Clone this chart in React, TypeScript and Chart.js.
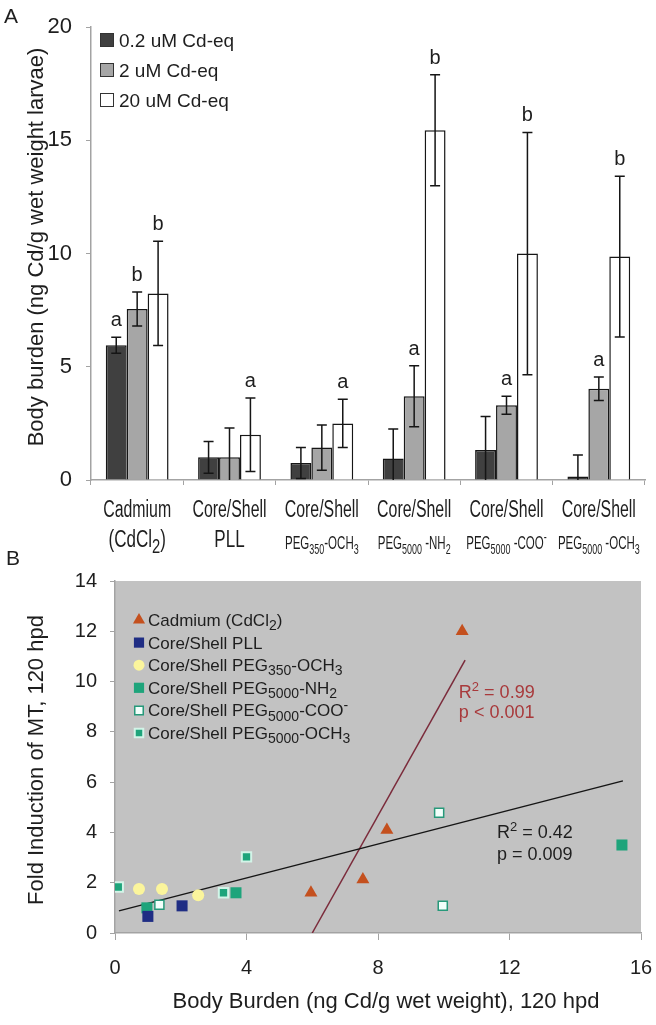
import React, { useEffect, useRef } from 'react';
import { Chart, registerables } from 'chart.js';
Chart.register(...registerables);

const FONT = '"Liberation Sans", Arial, Helvetica, sans-serif';
const TEXT = '#1e1e1e';
const AXIS = '#a3a3a3';

// ---------- Panel A data ----------
const categoriesLine1 = ['Cadmium', 'Core/Shell', 'Core/Shell', 'Core/Shell', 'Core/Shell', 'Core/Shell'];
const categoriesLine2 = ['(CdCl_{2})', 'PLL', 'PEG_{350}-OCH_{3}', 'PEG_{5000} -NH_{2}', 'PEG_{5000} -COO^{-}', 'PEG_{5000} -OCH_{3}'];
const seriesNames = ['0.2 uM Cd-eq', '2 uM Cd-eq', '20 uM Cd-eq'];
const lowDose = [5.95, 1.0, 0.75, 0.95, 1.33, 0.15];
const midDose = [7.55, 1.0, 1.43, 3.7, 3.3, 4.03];
const highDose = [8.24, 2.0, 2.5, 15.45, 10.0, 9.87];
const lowErr = [0.35, 0.7, 0.68, 1.3, 1.47, 0.95];
const midErr = [0.75, 1.3, 1.0, 1.35, 0.4, 0.52];
const highErr = [2.3, 1.62, 1.07, 2.45, 5.35, 3.55];
const lowLetters = ['a', '', '', '', '', ''];
const midLetters = ['b', '', '', 'a', 'a', 'a'];
const highLetters = ['b', 'a', 'a', 'b', 'b', 'b'];
const yTitleA = 'Body burden (ng Cd/g wet weight larvae)';

// ---------- Panel B data ----------
const legendB = [
  'Cadmium (CdCl_{2})',
  'Core/Shell PLL',
  'Core/Shell PEG_{350}-OCH_{3}',
  'Core/Shell PEG_{5000}-NH_{2}',
  'Core/Shell PEG_{5000}-COO^{-}',
  'Core/Shell PEG_{5000}-OCH_{3}',
];
const cadmiumPts = [{ x: 5.96, y: 1.6 }, { x: 7.54, y: 2.13 }, { x: 8.27, y: 4.1 }, { x: 10.56, y: 12.0 }];
const pllPts = [{ x: 1.0, y: 0.66 }, { x: 2.04, y: 1.08 }];
const peg350Pts = [{ x: 0.73, y: 1.75 }, { x: 1.43, y: 1.75 }, { x: 2.53, y: 1.5 }];
const nh2Pts = [{ x: 0.97, y: 1.0 }, { x: 3.68, y: 1.6 }, { x: 15.42, y: 3.5 }];
const cooPts = [{ x: 1.35, y: 1.12 }, { x: 9.86, y: 4.78 }, { x: 9.97, y: 1.08 }];
const och3Pts = [{ x: 0.1, y: 1.83 }, { x: 3.3, y: 1.6 }, { x: 4.0, y: 3.03 }];
const fitAll = [{ x: 0.12, y: 0.88 }, { x: 15.45, y: 6.05 }];
const fitCd = [{ x: 6.0, y: 0 }, { x: 10.65, y: 10.85 }];
const fitAllText = ['R^{2} = 0.42', 'p = 0.009'];
const fitCdText = ['R^{2} = 0.99', 'p < 0.001'];
const xTitleB = 'Body Burden (ng Cd/g wet weight), 120 hpd';
const yTitleB = 'Fold Induction of MT, 120 hpd';

// ---------- rich text helpers ----------
type Seg = { t: string; k: 'n' | 'sub' | 'sup' };
function parseRich(s: string): Seg[] {
  const out: Seg[] = [];
  const re = /([_^])\{([^}]*)\}/g;
  let last = 0;
  let m: RegExpExecArray | null;
  while ((m = re.exec(s))) {
    if (m.index > last) out.push({ t: s.slice(last, m.index), k: 'n' });
    out.push({ t: m[2], k: m[1] === '_' ? 'sub' : 'sup' });
    last = re.lastIndex;
  }
  if (last < s.length) out.push({ t: s.slice(last), k: 'n' });
  return out;
}
function drawRich(ctx: CanvasRenderingContext2D, s: string, x: number, y: number, size: number,
  align: 'left' | 'center' | 'right', color: string, sx = 1, rot = 0, subScale = 0.72) {
  const segs = parseRich(s);
  const fontFor = (k: string) => `${k === 'n' ? size : Math.round(size * subScale)}px ${FONT}`;
  let w = 0;
  for (const sg of segs) { ctx.font = fontFor(sg.k); w += ctx.measureText(sg.t).width; }
  ctx.save();
  ctx.translate(x, y);
  if (rot) ctx.rotate(rot);
  ctx.scale(sx, 1);
  let cx = align === 'left' ? 0 : align === 'center' ? -w / 2 : -w;
  ctx.fillStyle = color;
  ctx.textAlign = 'left';
  ctx.textBaseline = 'alphabetic';
  for (const sg of segs) {
    ctx.font = fontFor(sg.k);
    const dy = sg.k === 'sub' ? size * 0.25 : sg.k === 'sup' ? -size * 0.38 : 0;
    ctx.fillText(sg.t, cx, dy);
    cx += ctx.measureText(sg.t).width;
  }
  ctx.restore();
}
function drawMarker(ctx: CanvasRenderingContext2D, style: string, r: number, x: number, y: number, fill: string, stroke: string, bw: number) {
  ctx.save();
  ctx.beginPath();
  if (style === 'triangle') {
    let a = 0;
    ctx.moveTo(x + Math.sin(a) * r, y - Math.cos(a) * r);
    a += (2 * Math.PI) / 3;
    ctx.lineTo(x + Math.sin(a) * r, y - Math.cos(a) * r);
    a += (2 * Math.PI) / 3;
    ctx.lineTo(x + Math.sin(a) * r, y - Math.cos(a) * r);
    ctx.closePath();
  } else if (style === 'rect') {
    const s = Math.SQRT1_2 * r;
    ctx.rect(x - s, y - s, 2 * s, 2 * s);
  } else {
    ctx.arc(x, y, r, 0, Math.PI * 2);
  }
  ctx.fillStyle = fill;
  ctx.fill();
  if (bw > 0) { ctx.lineWidth = bw; ctx.strokeStyle = stroke; ctx.stroke(); }
  ctx.restore();
}

// ---------- Panel A ----------
function PanelA() {
  const ref = useRef<HTMLCanvasElement | null>(null);
  useEffect(() => {
    if (!ref.current) return;
    const errorPlugin = {
      id: 'errA',
      afterDatasetsDraw(chart: any) {
        const ctx = chart.ctx as CanvasRenderingContext2D;
        const ys = chart.scales.y;
        const area = chart.chartArea;
        chart.data.datasets.forEach((ds: any, di: number) => {
          const meta = chart.getDatasetMeta(di);
          meta.data.forEach((el: any, i: number) => {
            const v = ds.data[i];
            const e = ds.errors[i];
            const yt = ys.getPixelForValue(v + e);
            const yb = Math.min(ys.getPixelForValue(v - e), area.bottom);
            ctx.save();
            ctx.strokeStyle = '#151515';
            ctx.lineWidth = 1.5;
            ctx.beginPath();
            ctx.moveTo(el.x, yt); ctx.lineTo(el.x, yb);
            ctx.moveTo(el.x - 5, yt); ctx.lineTo(el.x + 5, yt);
            if (v - e > 0) { ctx.moveTo(el.x - 5, yb); ctx.lineTo(el.x + 5, yb); }
            ctx.stroke();
            ctx.restore();
            const letter = ds.letters[i];
            if (letter) drawRich(ctx, letter, el.x, yt - 11, 20, 'center', TEXT);
          });
        });
      },
      afterDraw(chart: any) {
        const ctx = chart.ctx as CanvasRenderingContext2D;
        const xs = chart.scales.x;
        // category labels
        categoriesLine1.forEach((l, i) => {
          const cx = xs.getPixelForValue(i);
          drawRich(ctx, l, cx, 517, 23, 'center', TEXT, 0.69);
          const l2 = categoriesLine2[i];
          if (l2.startsWith('PEG')) drawRich(ctx, l2, cx, 549, 18, 'center', TEXT, 0.64, 0, 0.8);
          else drawRich(ctx, l2, cx, 547, 23, 'center', TEXT, 0.74, 0, 0.85);
        });
        // legend
        chart.data.datasets.forEach((ds: any, i: number) => {
          const cy = 40 + i * 30;
          ctx.save();
          ctx.fillStyle = ds.backgroundColor;
          ctx.fillRect(100.5, cy - 6.5, 13, 13);
          ctx.strokeStyle = '#333';
          ctx.lineWidth = 1;
          ctx.strokeRect(100.5, cy - 6.5, 13, 13);
          ctx.restore();
          drawRich(ctx, ds.label, 119, cy + 7, 19, 'left', TEXT);
        });
        // titles
        drawRich(ctx, 'A', 4, 23, 21, 'left', TEXT);
        drawRich(ctx, yTitleA, 43, 247, 22, 'center', TEXT, 1, -Math.PI / 2);
      },
    };
    const chart = new Chart(ref.current, {
      type: 'bar',
      data: {
        labels: categoriesLine1.map((c, i) => c + i),
        datasets: [
          { label: seriesNames[0], data: lowDose, backgroundColor: '#404040', borderColor: '#161616', borderWidth: 1.5, errors: lowErr, letters: lowLetters } as any,
          { label: seriesNames[1], data: midDose, backgroundColor: '#a6a6a6', borderColor: '#161616', borderWidth: 1.5, errors: midErr, letters: midLetters } as any,
          { label: seriesNames[2], data: highDose, backgroundColor: '#ffffff', borderColor: '#161616', borderWidth: 1.5, errors: highErr, letters: highLetters } as any,
        ],
      },
      options: {
        responsive: false,
        animation: false,
        devicePixelRatio: 1,
        events: [],
        layout: { padding: { top: 14, right: 11, left: 0, bottom: 0 } },
        plugins: { legend: { display: false }, tooltip: { enabled: false } },
        datasets: { bar: { categoryPercentage: 0.68, barPercentage: 1.0 } },
        scales: {
          x: {
            grid: { offset: true, drawOnChartArea: false, tickLength: 5, color: AXIS },
            border: { color: AXIS, width: 1.5 },
            ticks: { display: false },
            afterFit: (s: any) => { s.height = 100; s.paddingLeft = 0; s.paddingRight = 0; },
          },
          y: {
            min: 0, max: 20,
            ticks: { stepSize: 5, font: { family: FONT, size: 22 }, color: TEXT, padding: 14 },
            grid: { drawOnChartArea: false, tickLength: 5, color: AXIS },
            border: { color: AXIS, width: 1.5 },
            afterFit: (s: any) => { s.width = 91; },
          },
        },
      } as any,
      plugins: [errorPlugin],
    });
    return () => chart.destroy();
  }, []);
  return <canvas ref={ref} width={656} height={580} style={{ position: 'absolute', left: 0, top: 0, width: 656, height: 580 }} />;
}

// ---------- Panel B ----------
function PanelB() {
  const ref = useRef<HTMLCanvasElement | null>(null);
  useEffect(() => {
    if (!ref.current) return;
    const plugin = {
      id: 'decoB',
      beforeDraw(chart: any) {
        const { ctx, chartArea: a } = chart;
        ctx.save();
        ctx.fillStyle = '#c2c2c2';
        ctx.fillRect(a.left, a.top, a.right - a.left, a.bottom - a.top);
        ctx.restore();
      },
      afterDraw(chart: any) {
        const ctx = chart.ctx as CanvasRenderingContext2D;
        const xs = chart.scales.x;
        const ys = chart.scales.y;
        // legend
        chart.data.datasets.forEach((ds: any, i: number) => {
          if (!ds.legendText) return;
          const cy = 75 + i * 22.6;
          drawMarker(ctx, ds.pointStyle, ds.legendRadius, 139, cy, ds.backgroundColor, ds.borderColor, ds.borderWidth);
          drawRich(ctx, ds.legendText, 148, cy + 6, 17, 'left', TEXT, 1, 0, 0.8);
        });
        // fit annotations
        drawRich(ctx, fitCdText[0], xs.getPixelForValue(10.46), ys.getPixelForValue(9.35), 18, 'left', '#a8393b');
        drawRich(ctx, fitCdText[1], xs.getPixelForValue(10.46), ys.getPixelForValue(8.55), 18, 'left', '#a8393b');
        drawRich(ctx, fitAllText[0], xs.getPixelForValue(11.62), ys.getPixelForValue(3.78), 18, 'left', TEXT);
        drawRich(ctx, fitAllText[1], xs.getPixelForValue(11.62), ys.getPixelForValue(2.9), 18, 'left', TEXT);
        // titles
        drawRich(ctx, 'B', 6, 20, 21, 'left', TEXT);
        drawRich(ctx, xTitleB, 386, 463, 22, 'center', TEXT);
        drawRich(ctx, yTitleB, 43, 215, 22, 'center', TEXT, 1, -Math.PI / 2);
      },
    };
    const pt = (label: string, data: any[], style: string, r: number, bg: string, bc: string, bw: number, lr: number) => ({
      label, legendText: label, data, pointStyle: style, pointRadius: r, backgroundColor: bg, borderColor: bc,
      borderWidth: bw, legendRadius: lr, showLine: false,
    });
    const chart = new Chart(ref.current, {
      type: 'scatter',
      data: {
        datasets: [
          pt(legendB[0], cadmiumPts, 'triangle', 7.5, '#c4501e', '#c4501e', 0, 7),
          pt(legendB[1], pllPts, 'rect', 7.8, '#1f2d84', '#1f2d84', 0, 7.2),
          pt(legendB[2], peg350Pts, 'circle', 6, '#fbf59c', '#fbf59c', 0, 5.5),
          pt(legendB[3], nh2Pts, 'rect', 7.8, '#1ea47b', '#1ea47b', 0, 7.2),
          pt(legendB[4], cooPts, 'rect', 6.4, '#f2fffb', '#27997a', 1.5, 6),
          pt(legendB[5], och3Pts, 'rect', 6.6, '#1ea47b', '#d3f4e8', 2, 6),
          { label: 'fit all', data: fitAll, showLine: true, pointRadius: 0, borderColor: '#151515', borderWidth: 1.5, backgroundColor: '#151515' } as any,
          { label: 'fit Cd', data: fitCd, showLine: true, pointRadius: 0, borderColor: '#7b2b3b', borderWidth: 1.5, backgroundColor: '#7b2b3b' } as any,
        ] as any,
      },
      options: {
        responsive: false,
        animation: false,
        devicePixelRatio: 1,
        events: [],
        layout: { padding: { top: 36, right: 15, left: 0, bottom: 0 } },
        plugins: { legend: { display: false }, tooltip: { enabled: false } },
        scales: {
          x: {
            type: 'linear', min: 0, max: 16,
            ticks: { stepSize: 4, font: { family: FONT, size: 20 }, color: TEXT, padding: 16 },
            grid: { drawOnChartArea: false, tickLength: 7, color: AXIS },
            border: { color: AXIS, width: 1.5 },
            afterFit: (s: any) => { s.height = 92; s.paddingLeft = 0; s.paddingRight = 0; },
          },
          y: {
            min: 0, max: 14,
            ticks: { stepSize: 2, font: { family: FONT, size: 20 }, color: TEXT, padding: 13 },
            grid: { drawOnChartArea: false, tickLength: 5, color: AXIS },
            border: { color: AXIS, width: 1.5 },
            afterFit: (s: any) => { s.width = 115; s.paddingTop = 0; s.paddingBottom = 0; },
          },
        },
      } as any,
      plugins: [plugin],
    });
    return () => chart.destroy();
  }, []);
  return <canvas ref={ref} width={656} height={480} style={{ position: 'absolute', left: 0, top: 545, width: 656, height: 480 }} />;
}

export default function App() {
  return (
    <div style={{ position: 'absolute', left: 0, top: 0, width: 656, height: 1025, background: '#fff', overflow: 'hidden' }}>
      <PanelA />
      <PanelB />
    </div>
  );
}
